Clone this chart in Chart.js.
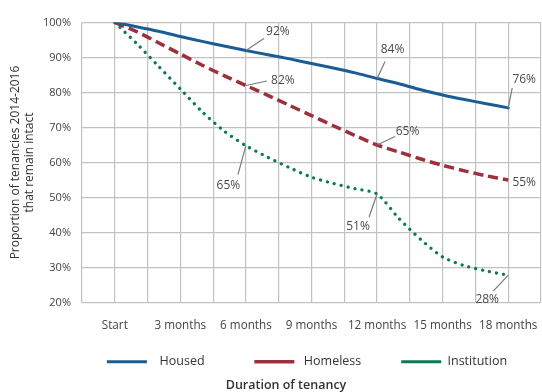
<!DOCTYPE html>
<html><head><meta charset="utf-8">
<script src="https://cdn.jsdelivr.net/npm/chart.js@4.4.1/dist/chart.umd.min.js"></script>
<style>html,body{margin:0;padding:0;background:#fff}#wrap{width:542px;height:392px}</style>
</head><body><div id="wrap"><canvas id="c" width="542" height="392"></canvas></div>
<script>
// ---- data ----
const months = [0,1,2,3,4,5,6,7,8,9,10,11,12,13,14,15,16,17,18];
const xTickLabels = {0:'Start',3:'3 months',6:'6 months',9:'9 months',12:'12 months',15:'15 months',18:'18 months'};
const seriesNames = ['Housed','Homeless','Institution'];
const housed      = [100,98.8,97.5,96,94.6,93.3,92,90.8,89.6,88.3,87,85.6,84,82.5,80.8,79.3,78,76.8,75.6];
const homeless    = [100,97.4,94.2,91,87.8,84.8,82,79.2,76.3,73.4,70.5,67.7,65,63,61,59.2,57.6,56.2,55];
const institution = [100,94,87.5,81,74.5,69,64.8,61.5,58.5,55.8,54,52.5,51,44,38,33,30.5,29,27.8];
const yTicks = [20,30,40,50,60,70,80,90,100];
const callouts = [
  {series:0, month:6,  text:'92%'},
  {series:0, month:12, text:'84%'},
  {series:0, month:18, text:'76%'},
  {series:1, month:6,  text:'82%'},
  {series:1, month:12, text:'65%'},
  {series:1, month:18, text:'55%'},
  {series:2, month:6,  text:'65%'},
  {series:2, month:12, text:'51%'},
  {series:2, month:18, text:'28%'}
];

// ---- styles (offsets from the point, in px) ----
const calloutStyle = [
  {lx:18, ly:-12, tx:32, ty:-19},
  {lx:8,  ly:-17, tx:15.5, ty:-29},
  {lx:4,  ly:-20, tx:16, ty:-28},
  {lx:21, ly:-4.5, tx:37, ty:-5},
  {lx:18, ly:-8.5, tx:30.5, ty:-13},
  {tx:16, ty:3},
  {lx:-8, ly:29, tx:-17.5, ty:40},
  {lx:-8, ly:23, tx:-19, ty:33},
  {lx:-15, ly:16, tx:-21, ty:24}
];
const legendLead  = [2,1,0];
const legendTrail = [11,8,0];
const colors = ['#1b5c95','#9e2f3c','#0b7a50'];
const FONT = '"Open Sans", "DejaVu Sans", sans-serif';

const toXY = arr => months.map((m,i)=>({x:m, y:arr[i]}));

const calloutPlugin = {
  id:'callouts',
  afterDatasetsDraw(chart){
    const {ctx} = chart; const x = chart.scales.x, y = chart.scales.y;
    ctx.save();
    callouts.forEach((c,i)=>{
      const pt = chart.data.datasets[c.series].data.find(d=>d.x===c.month);
      const px = x.getPixelForValue(c.month), py = y.getPixelForValue(pt.y);
      const o = calloutStyle[i];
      if (o.lx !== undefined){
        ctx.strokeStyle='#7b7b7b'; ctx.lineWidth=1.2; ctx.setLineDash([]);
        ctx.beginPath(); ctx.moveTo(px,py); ctx.lineTo(px+o.lx, py+o.ly); ctx.stroke();
      }
      ctx.fillStyle='#4a4a4a'; ctx.font='12px '+FONT; ctx.textAlign='center'; ctx.textBaseline='middle';
      ctx.fillText(c.text, px+o.tx, py+o.ty);
    });
    ctx.restore();
  }
};

const shiftPlugin = {
  id:'shift',
  afterLayout(chart){
    if (chart.titleBlock){ chart.titleBlock.left = 30; chart.titleBlock.right = 542; }
    if (chart.legend){ chart.legend.left += 36.5; chart.legend.right += 36.5; }
  }
};

new Chart(document.getElementById('c'), {
  type:'line',
  data:{
    datasets:[
      {label:seriesNames[0], data:toXY(housed), borderColor:colors[0], backgroundColor:colors[0], borderWidth:3, borderCapStyle:'round', pointRadius:0, tension:0.25},
      {label:seriesNames[1], data:toXY(homeless), borderColor:colors[1], backgroundColor:colors[1], borderWidth:3.5, borderDash:[10,5], pointRadius:0, tension:0.25},
      {label:seriesNames[2], data:toXY(institution), borderColor:colors[2], backgroundColor:colors[2], borderWidth:3.2, borderDash:[0.1,7], borderCapStyle:'round', pointRadius:0, tension:0.25}
    ]
  },
  plugins:[calloutPlugin, shiftPlugin],
  options:{
    responsive:false, animation:false, devicePixelRatio:1,
    layout:{padding:{left:0,right:1,top:22.5,bottom:0}},
    scales:{
      x:{type:'linear', min:-1.5, max:19.5,
        afterFit(s){ s.height = 39; s.paddingLeft = 0; s.paddingRight = 0; },
        grid:{color:'#c2c2c2', lineWidth:1.2, drawTicks:false},
        border:{display:false},
        ticks:{stepSize:1.5, autoSkip:false, maxRotation:0, padding:16, color:'#444', font:{family:FONT,size:11.7},
          callback:(v)=> (xTickLabels[v] !== undefined ? xTickLabels[v] : '')}
      },
      y:{min:20, max:100,
        afterFit(s){ s.width = 82; },
        afterBuildTicks(s){ s.ticks = yTicks.map(v=>({value:v})); },
        grid:{color:'#c2c2c2', lineWidth:1.2, drawTicks:false},
        border:{display:false},
        ticks:{padding:11, color:'#444', font:{family:FONT,size:11}, callback:v=>v+'%'},
        title:{display:true, text:['Proportion of tenancies 2014-2016','that remain intact'], color:'#333',
          font:{family:FONT,size:12,lineHeight:1.1}, padding:{top:9.4,bottom:0}}
      }
    },
    plugins:{
      legend:{position:'bottom',
        labels:{usePointStyle:true, pointStyle:'line', pointStyleWidth:40, padding:14, color:'#333',
          font:{family:FONT,size:12.5},
          generateLabels(chart){
            const items = Chart.defaults.plugins.legend.labels.generateLabels(chart);
            items.forEach((it,i)=>{ it.text = ' '.repeat(legendLead[i]) + it.text + ' '.repeat(legendTrail[i]); });
            return items;
          }
        }
      },
      title:{display:true, position:'bottom', text:'Duration of tenancy', color:'#333',
        font:{family:FONT,size:12.5,weight:'600',lineHeight:1.0}, padding:{top:1.5,bottom:0}},
      tooltip:{enabled:false}
    }
  }
});
</script>
</body></html>
